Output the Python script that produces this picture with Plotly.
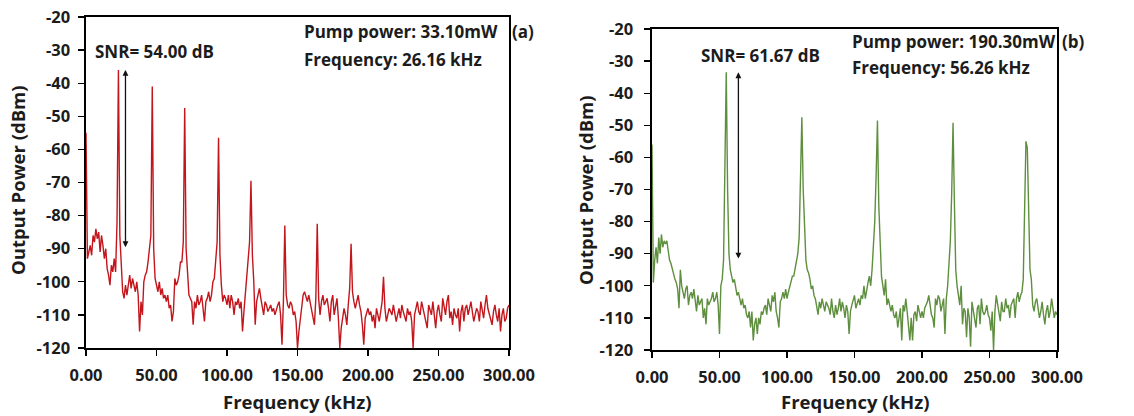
import plotly.graph_objects as go

# ---------------- data ----------------
freq_start_khz = 0
freq_step_khz = 1
n_points = 301

# Panel (a): pump 33.10 mW, output power (dBm) at 1 kHz steps from 0 to 300 kHz
power_a = [
    -55, -93, -91, -89, -92, -86, -88, -84, -87, -85,
    -91, -86, -89, -93, -90, -96, -98, -101, -95, -97,
    -93, -97, -82, -36, -86, -96, -103, -105, -101, -104,
    -100, -98, -102, -99, -101, -103, -100, -104, -115, -106,
    -110, -100, -98, -97, -94, -90, -86, -41, -90, -99,
    -101, -103, -100, -104, -102, -105, -104, -106, -104, -108,
    -107, -112, -109, -99, -101, -100, -98, -94, -94, -88,
    -47.5, -90, -97, -104, -105, -106, -113, -106, -108, -104,
    -107, -106, -104, -108, -112, -106, -105, -103, -106, -104,
    -100, -99, -94, -88, -56.5, -92, -101, -106, -104, -105,
    -107, -104, -108, -104, -106, -110, -106, -107, -105, -108,
    -106, -115, -109, -104, -100, -95, -88, -69.5, -92, -100,
    -113, -106, -104, -102, -105, -107, -110, -106, -107, -109,
    -108, -107, -109, -108, -110, -108, -107, -106, -110, -119,
    -106, -83, -104, -107, -108, -106, -107, -110, -109, -112,
    -120, -115, -111, -106, -104, -103, -105, -106, -104, -106,
    -109, -111, -113, -105, -82.5, -105, -110, -106, -104, -107,
    -106, -105, -108, -112, -106, -104, -110, -107, -105, -111,
    -120, -114, -111, -108, -110, -113, -107, -102, -88.5, -103,
    -106, -108, -106, -104, -107, -109, -113, -119, -111, -109,
    -108, -110, -109, -112, -110, -114, -108, -110, -112, -109,
    -106, -98.5, -108, -112, -110, -108, -109, -110, -107, -109,
    -112, -110, -108, -111, -107, -109, -111, -112, -108, -110,
    -109, -112, -120, -110, -108, -106, -109, -110, -106, -108,
    -110, -112, -114, -107, -109, -110, -106, -110, -114, -109,
    -107, -110, -112, -105, -108, -110, -106, -104, -111, -109,
    -113, -108, -110, -111, -108, -115, -109, -107, -112, -108,
    -107, -110, -108, -106, -109, -112, -110, -108, -109, -112,
    -106, -109, -111, -107, -104, -108, -110, -112, -113, -109,
    -107, -110, -112, -108, -115, -110, -108, -112, -111, -108,
    -107,
]

# Panel (b): pump 190.30 mW
power_b = [
    -56, -99, -92, -88, -93, -85, -90, -84, -88, -86,
    -87, -86, -89, -92, -93, -95, -96, -98, -99, -101,
    -107, -95, -100, -102, -104, -101, -100, -106, -103, -102,
    -104, -101, -105, -108, -103, -106, -105, -104, -110, -107,
    -112, -104, -106, -105, -104, -102, -105, -104, -102, -106,
    -115, -100, -98, -92, -68, -33.5, -70, -90, -95, -97,
    -99, -98, -101, -103, -102, -104, -106, -104, -107, -106,
    -109, -110, -108, -113, -108, -117, -112, -110, -115, -110,
    -112, -108, -109, -107, -106, -109, -104, -106, -108, -103,
    -105, -102, -108, -110, -113, -105, -104, -102, -104, -101,
    -104, -102, -100, -98, -97, -97, -95, -93, -90, -85,
    -66, -47.5, -70, -82, -92, -95, -96, -98, -101, -100,
    -103, -104, -106, -109, -105, -107, -104, -106, -108, -105,
    -106, -107, -109, -104, -108, -110, -106, -109, -107, -104,
    -108, -105, -107, -110, -106, -108, -115, -108, -106, -104,
    -103, -107, -105, -104, -106, -103, -104, -100, -104, -101,
    -99, -97, -100, -95, -88, -80, -66, -48.5, -75, -90,
    -97, -100, -103, -98, -106, -104, -106, -108, -106, -109,
    -110, -108, -113, -109, -107, -117, -106, -108, -104, -108,
    -112, -117, -110, -117, -109, -108, -111, -106, -108, -110,
    -108, -110, -107, -106, -105, -103, -107, -109, -110, -113,
    -104, -106, -103, -104, -108, -106, -104, -115, -104, -100,
    -92, -86, -71, -49.2, -74, -95, -100, -103, -106, -100,
    -112, -107, -108, -116, -107, -110, -119, -105, -108, -110,
    -113, -107, -106, -112, -104, -108, -109, -108, -106, -109,
    -110, -114, -108, -120, -108, -103, -106, -109, -111, -105,
    -108, -108, -104, -107, -106, -110, -106, -105, -104, -110,
    -104, -102, -105, -103, -102, -98, -80, -55, -57, -76,
    -95, -98, -106, -108, -105, -104, -107, -110, -108, -105,
    -109, -112, -108, -106, -110, -108, -104, -107, -110, -108,
    -109,
]

freq_khz = [freq_start_khz + i * freq_step_khz for i in range(n_points)]

x_ticks = [0, 50, 100, 150, 200, 250, 300]
x_ticktext = ["0.00", "50.00", "100.00", "150.00", "200.00", "250.00", "300.00"]
y_ticks = [-20, -30, -40, -50, -60, -70, -80, -90, -100, -110, -120]
y_ticktext = ["-20", "-30", "-40", "-50", "-60", "-70", "-80", "-90", "-100", "-110", "-120"]

# SNR arrows (kHz, dBm)
snr_a = {"x": 28, "top": -36, "bottom": -90, "label": "SNR= 54.00 dB"}
snr_b = {"x": 64, "top": -33.5, "bottom": -92, "label": "SNR= 61.67 dB"}

info_a = ["Pump power: 33.10mW", "Frequency: 26.16 kHz", "(a)"]
info_b = ["Pump power: 190.30mW", "Frequency: 56.26 kHz", "(b)"]

# ---------------- figure ----------------
W, H = 1134, 416
RED = "#C3161C"
GREEN = "#5E8F3E"
TXT = "#1c1c1c"
FONT = "Open Sans"

fig = go.Figure()
fig.add_trace(go.Scatter(x=freq_khz, y=power_a, mode="lines",
                         line=dict(color=RED, width=1.4), xaxis="x", yaxis="y",
                         showlegend=False, hoverinfo="skip"))
fig.add_trace(go.Scatter(x=freq_khz, y=power_b, mode="lines",
                         line=dict(color=GREEN, width=1.4), xaxis="x2", yaxis="y2",
                         showlegend=False, hoverinfo="skip"))

def px_x(p):
    return p / W

def px_y(p):
    return 1 - p / H

axis_common = dict(showline=True, linecolor="black", linewidth=1.6, mirror=True,
                   ticks="outside", ticklen=6, tickwidth=1.4, tickcolor="black",
                   showgrid=False, zeroline=False, automargin=False,
                   tickfont=dict(family=FONT, size=16.5, color=TXT, weight="bold"))

fig.update_layout(
    width=W, height=H,
    margin=dict(l=0, r=0, t=0, b=0, autoexpand=False),
    paper_bgcolor="white", plot_bgcolor="white",
    xaxis=dict(domain=[px_x(86), px_x(509)], range=[0, 300], anchor="y",
               tickvals=x_ticks, ticktext=x_ticktext, ticklabelstandoff=6, **axis_common),
    yaxis=dict(domain=[px_y(348), px_y(17)], range=[-120, -20], anchor="x",
               tickvals=y_ticks, ticktext=y_ticktext, ticklabelstandoff=5, **axis_common),
    xaxis2=dict(domain=[px_x(652), px_x(1057)], range=[0, 300], anchor="y2",
                tickvals=x_ticks, ticktext=x_ticktext, ticklabelstandoff=6, **axis_common),
    yaxis2=dict(domain=[px_y(350), px_y(29)], range=[-120, -20], anchor="x2",
                tickvals=y_ticks, ticktext=y_ticktext, ticklabelstandoff=8, **axis_common),
)

ann = []

def text_px(x, y, s, xanchor="left", size=17, angle=0):
    ann.append(dict(x=px_x(x), y=px_y(y), xref="paper", yref="paper", text="<b>" + s + "</b>",
                    showarrow=False, xanchor=xanchor, yanchor="middle", textangle=angle,
                    borderpad=0, font=dict(family=FONT, size=size, color=TXT)))

# panel (a) texts
text_px(94, 51, snr_a["label"])
text_px(303, 32, info_a[0])
text_px(303, 59, info_a[1])
text_px(511, 32, info_a[2])
# panel (b) texts
text_px(700, 56, snr_b["label"])
text_px(851, 42, info_b[0])
text_px(851, 67, info_b[1])
text_px(1061, 42, info_b[2])
# axis titles
text_px(297, 401, "Frequency (kHz)", xanchor="center", size=18.5)
text_px(855, 401, "Frequency (kHz)", xanchor="center", size=18.5)
text_px(17, 180, "Output Power (dBm)", xanchor="center", size=18.5, angle=-90)
text_px(586, 190, "Output Power (dBm)", xanchor="center", size=18.5, angle=-90)

# SNR double arrows
for snr, xr, yr in ((snr_a, "x", "y"), (snr_b, "x2", "y2")):
    ann.append(dict(x=snr["x"], y=snr["top"], ax=snr["x"], ay=snr["bottom"],
                    xref=xr, yref=yr, axref=xr, ayref=yr, text="", showarrow=True,
                    arrowhead=2, arrowside="end+start", arrowsize=0.9,
                    arrowwidth=1.3, arrowcolor="#111111"))

fig.update_layout(annotations=ann)
fig.write_html("out.html", config={"displayModeBar": False, "staticPlot": True},
               post_script="document.body.style.margin='0px';document.body.style.overflow='hidden';")
